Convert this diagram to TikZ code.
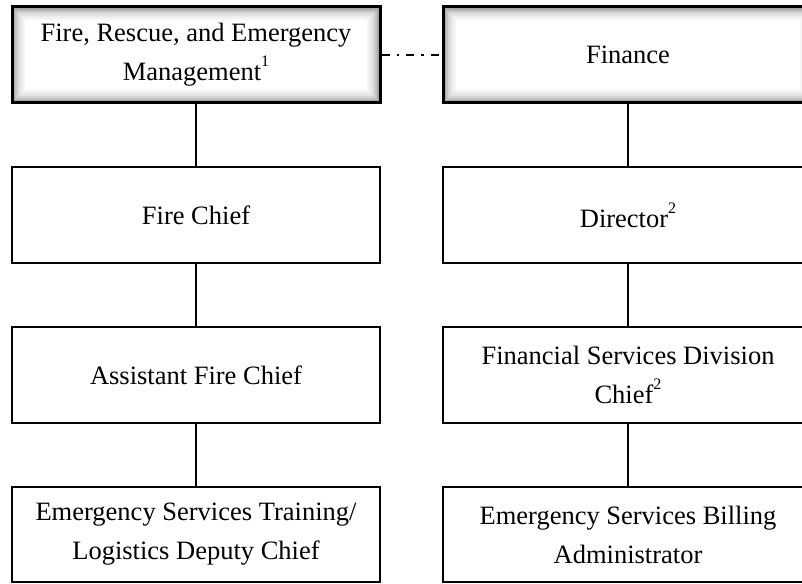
\documentclass[tikz,border=0pt]{standalone}
\usepackage{fontspec}
\setmainfont{Liberation Serif}
\newcommand{\supnum}[1]{\raisebox{14pt}{\fontsize{16}{16}\selectfont #1}}
\begin{document}
\begin{tikzpicture}[x=1pt,y=1pt,
  orgbox/.style={draw=black, line width=2.6pt, fill=white, minimum width=368pt, minimum height=96pt,
    inner sep=0pt, align=center, font=\fontsize{26.5}{39}\selectfont},
  shadowbox/.style={orgbox, line width=3pt,
    path picture={
      \foreach \w/\c in {26/4,22/7,18/11,14/16,10/24,6/34,3/46}{
        \draw[line width=\w pt, black!\c] (path picture bounding box.south west) rectangle (path picture bounding box.north east);
      }
    }},
  link/.style={draw=black, line width=2.6pt},
  dashdot/.style={draw=black, line width=2.6pt, dash pattern=on 8pt off 7pt on 2.5pt off 7pt}
]
\useasboundingbox (0,0) rectangle (802,-583);
\clip (0,0) rectangle (802,-583);
\node[shadowbox] (fre) at (196,-55) {Fire, Rescue, and Emergency\\Management\supnum{1}};
\node[shadowbox, minimum width=370pt] (fin) at (628,-55) {Finance};
\node[orgbox] (fc) at (196,-215) {Fire Chief};
\node[orgbox, minimum width=370pt] (dir) at (628,-215) {Director\supnum{2}};
\node[orgbox] (afc) at (196,-375) {Assistant Fire Chief};
\node[orgbox, minimum width=370pt] (fsdc) at (628,-375) {Financial Services Division\\Chief\supnum{2}};
\node[orgbox, minimum height=95pt] (estl) at (196,-534.5) {Emergency Services Training/\\Logistics Deputy Chief};
\node[orgbox, minimum width=370pt, minimum height=95pt] (esba) at (628,-534.5) {Emergency Services Billing\\Administrator};
\draw[link] (fre.south) -- (fc.north);
\draw[link] (fc.south) -- (afc.north);
\draw[link] (afc.south) -- (estl.north);
\draw[link] (fin.south) -- (dir.north);
\draw[link] (dir.south) -- (fsdc.north);
\draw[link] (fsdc.south) -- (esba.north);
\draw[dashdot] (fre.east) -- (fin.west);
\end{tikzpicture}
\end{document}
